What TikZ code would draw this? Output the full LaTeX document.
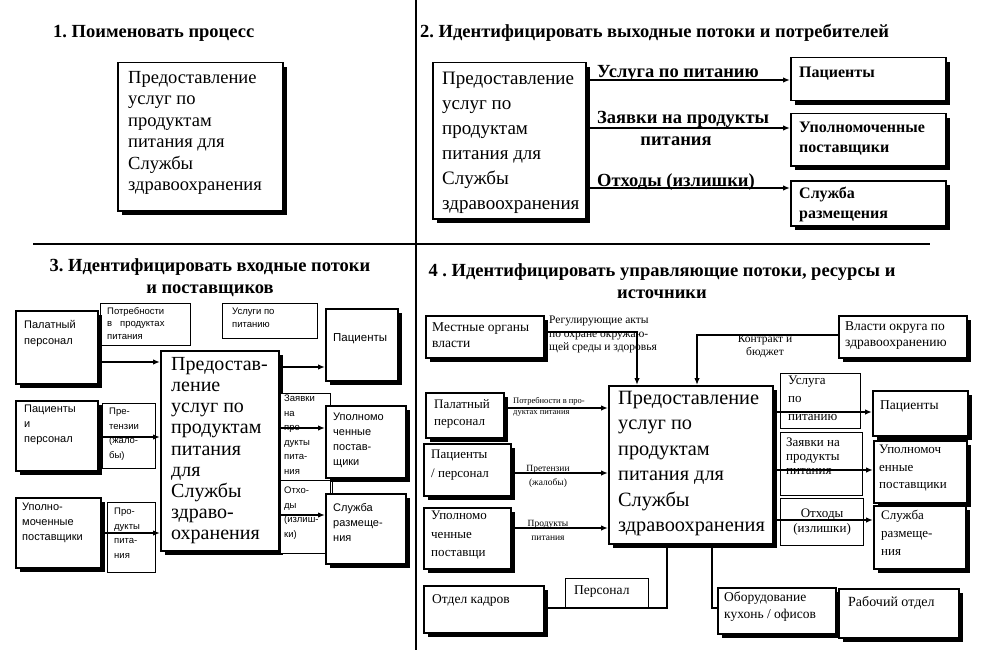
\documentclass[tikz,border=0pt]{standalone}
\usepackage{fontspec}
\setmainfont{Liberation Serif}
\setsansfont{Liberation Sans}
\usetikzlibrary{arrows.meta,shadows,calc}
\frenchspacing
\newcommand\myfs[2]{\fontsize{#1}{#2}\selectfont}
\newcommand\mkbox[6]{\node[#2, minimum width=#5pt, minimum height=#6pt] (#1) at (#3,#4) {};}
\tikzset{
  bx/.style={draw, line width=1.5pt, fill=white, anchor=north west, inner sep=0pt},
  shd/.style={bx, general shadow={fill=black, shadow xshift=4pt, shadow yshift=-4pt}},
  lbl/.style={bx, line width=1.2pt},
  txt/.style={anchor=north west, inner sep=0pt, align=left},
  ctxt/.style={inner sep=0pt, align=center},
  flow/.style={line width=1.8pt, -{Latex[length=7pt,width=5.5pt]}},
  link/.style={line width=1.6pt},
  divider/.style={line width=1.6pt},
  ttl/.style={inner sep=0pt, font=\myfs{18.5}{22}\bfseries},
  q2lab/.style={inner sep=0pt, font=\myfs{18.5}{22}\bfseries},
}
\begin{document}
\begin{tikzpicture}[x=1pt,y=-1pt]
\useasboundingbox (0,0) rectangle (987,650);
% dividers
\coordinate (vt) at (416,0); \coordinate (vb) at (416,650);
\coordinate (hl) at (33,244); \coordinate (hr) at (930,244);
\draw[divider] (vt) -- (vb);
\draw[divider] (hl) -- (hr);

% ---------- Quadrant 1 ----------
\node[ttl, anchor=west] (t1) at (53,33) {1. Поименовать процесс};
\mkbox{q1}{shd}{117}{62}{165}{148}
\node[txt, font=\myfs{18.5}{21.5}] (q1t) at ([shift={(11,9)}]q1.north west) {Предоставление\\услуг по\\продуктам\\питания для\\Службы\\здравоохранения};

% ---------- Quadrant 2 ----------
\node[ttl, anchor=west] (t2) at (420,33) {2. Идентифицировать выходные потоки и потребителей};
\mkbox{q2}{shd}{432}{62}{153}{156}
\node[txt, font=\myfs{19}{25}] (q2t) at ([shift={(10,10)}]q2.north west) {Предоставление\\услуг по\\продуктам\\питания для\\Службы\\здравоохранения};
\mkbox{q2p}{shd}{790}{57}{155}{43}
\node[txt, font=\myfs{16}{20}\bfseries] (q2pt) at ([shift={(9,10)}]q2p.north west) {Пациенты};
\mkbox{q2u}{shd}{790}{113}{155}{52}
\node[txt, font=\myfs{16}{20}\bfseries] (q2ut) at ([shift={(9,9)}]q2u.north west) {Уполномоченные\\поставщики};
\mkbox{q2s}{shd}{790}{180}{155}{45}
\node[txt, font=\myfs{16}{20}\bfseries] (q2st) at ([shift={(9,7)}]q2s.north west) {Служба\\размещения};
\draw[flow] ([yshift=-18pt]q2.north east) -- (q2p.west |- 0,80);
\draw[flow] ([yshift=-66pt]q2.north east) -- (q2u.west |- 0,128);
\draw[flow] ([yshift=-126pt]q2.north east) -- (q2s.west |- 0,188);
\node[q2lab, anchor=base west] (l21) at (597,78) {Услуга по питанию};
\node[q2lab, anchor=base west] (l22) at (597,124) {Заявки на продукты};
\node[q2lab, anchor=base] (l23) at (676,145) {питания};
\node[q2lab, anchor=base west] (l24) at (597,186) {Отходы (излишки)};

% ---------- Quadrant 3 ----------
\node[ttl, align=center] (t3) at (210,278) {3. Идентифицировать входные потоки\\и поставщиков};
\mkbox{q3need}{lbl}{100}{303}{90}{42}
\node[txt, font=\sffamily\myfs{9.5}{12.5}] (q3needt) at ([shift={(7,4)}]q3need.north west) {Потребности\\в\ \ \ продуктах\\питания};
\mkbox{q3serv}{lbl}{222}{303}{95}{35}
\node[txt, font=\sffamily\myfs{9.5}{12.5}] (q3servt) at ([shift={(10,5)}]q3serv.north west) {Услуги по\\питанию};
\mkbox{q3pp}{shd}{15}{310}{82}{73}
\node[txt, font=\sffamily\myfs{11}{16}] (q3ppt) at ([shift={(9,10)}]q3pp.north west) {Палатный\\персонал};
\mkbox{q3pat}{shd}{325}{308}{72}{72}
\node[txt, font=\sffamily\myfs{11.5}{16}] (q3patt) at ([shift={(8,25)}]q3pat.north west) {Пациенты};
\mkbox{q3main}{shd}{160}{350}{118}{200}
\node[txt, font=\myfs{20}{21.2}] (q3maint) at ([shift={(11,7)}]q3main.north west) {Предостав-\\ление\\услуг по\\продуктам\\питания\\для\\Службы\\здраво-\\охранения};
\mkbox{q3pp2}{shd}{15}{400}{82}{70}
\node[txt, font=\sffamily\myfs{11}{15}] (q3pp2t) at ([shift={(9,5)}]q3pp2.north west) {Пациенты\\и\\персонал};
\mkbox{q3cl}{lbl}{102}{403}{53}{65}
\node[txt, font=\sffamily\myfs{9.5}{14.5}] (q3clt) at ([shift={(7,5)}]q3cl.north west) {Пре-\\тензии\\(жало-\\бы)};
\mkbox{q3sup}{shd}{15}{497}{85}{70}
\node[txt, font=\sffamily\myfs{11}{15}] (q3supt) at ([shift={(7,6)}]q3sup.north west) {Уполно-\\моченные\\поставщики};
\mkbox{q3prod}{lbl}{107}{502}{48}{70}
\node[txt, font=\sffamily\myfs{9.5}{14.5}] (q3prodt) at ([shift={(7,6)}]q3prod.north west) {Про-\\дукты\\пита-\\ния};
\mkbox{q3ord}{lbl}{280}{393}{50}{87}
\node[txt, font=\sffamily\myfs{9.5}{14.5}] (q3ordt) at ([shift={(4,2)}]q3ord.north west) {Заявки\\на\\про-\\дукты\\пита-\\ния};
\mkbox{q3waste}{lbl}{280}{480}{50}{73}
\node[txt, font=\sffamily\myfs{9.5}{14.5}] (q3wastet) at ([shift={(4,7)}]q3waste.north west) {Отхо-\\ды\\(излиш-\\ки)};
\mkbox{q3sup2}{shd}{325}{405}{80}{72}
\node[txt, font=\sffamily\myfs{11}{15}] (q3sup2t) at ([shift={(8,8)}]q3sup2.north west) {Уполномо\\ченные\\постав-\\щики};
\mkbox{q3acc}{shd}{325}{493}{80}{70}
\node[txt, font=\sffamily\myfs{11}{15}] (q3acct) at ([shift={(8,10)}]q3acc.north west) {Служба\\размеще-\\ния};
\draw[link, line width=1pt] ([xshift=7pt]q3sup2.south west) -- ([xshift=7pt]q3acc.north west);
\draw[flow] (q3pp.east |- 0,362) -- (q3main.west |- 0,362);
\draw[flow] (q3pp2.east |- 0,437) -- (q3main.west |- 0,437);
\draw[flow] (q3sup.east |- 0,533) -- (q3main.west |- 0,533);
\draw[flow] (q3main.east |- 0,367) -- (q3pat.west |- 0,367);
\draw[flow] (q3main.east |- 0,428) -- (q3sup2.west |- 0,428);
\draw[flow] (q3main.east |- 0,515) -- (q3acc.west |- 0,515);

% ---------- Quadrant 4 ----------
\node[ttl, align=center] (t4) at (662,281) {4 . Идентифицировать управляющие потоки, ресурсы и\\источники};
\mkbox{q4loc}{shd}{425}{315}{118}{42}
\node[txt, font=\myfs{13.5}{16}] (q4loct) at ([shift={(7,7)}]q4loc.north west) {Местные органы\\власти};
\node[txt, font=\myfs{11.5}{13.5}] (q4reg) at (549,316) {Регулирующие акты\\по охране окружаю-\\щей среды и здоровья};
\mkbox{q4dist}{shd}{838}{315}{128}{42}
\node[txt, font=\myfs{13.5}{16}] (q4distt) at ([shift={(7,6)}]q4dist.north west) {Власти округа по\\здравоохранению};
\node[ctxt, font=\myfs{11.5}{13}] (q4ctr) at (765,346) {Контракт и\\бюджет};
\mkbox{q4main}{shd}{608}{385}{164}{158}
\node[txt, font=\myfs{20.3}{25.5}] (q4maint) at ([shift={(10,6)}]q4main.north west) {Предоставление\\услуг по\\продуктам\\питания для\\Службы\\здравоохранения};
\mkbox{q4ward}{shd}{425}{392}{78}{45}
\node[txt, font=\myfs{13}{17}] (q4wardt) at ([shift={(9,7)}]q4ward.north west) {Палатный\\персонал};
\node[txt, font=\myfs{8.5}{11}] (q4need) at (513,397) {Потребности в про-\\дуктах питания};
\mkbox{q4pat}{shd}{423}{443}{87}{52}
\node[txt, font=\myfs{13}{19}] (q4patt) at ([shift={(8,7)}]q4pat.north west) {Пациенты\\/ персонал};
\node[ctxt, font=\myfs{9.5}{14}] (q4cl) at (548,476) {Претензии\\(жалобы)};
\mkbox{q4sup}{shd}{423}{507}{87}{61}
\node[txt, font=\myfs{13}{18.5}] (q4supt) at ([shift={(8,4)}]q4sup.north west) {Уполномо\\ченные\\поставщи};
\node[ctxt, font=\myfs{9.5}{14}] (q4prod) at (548,530) {Продукты\\питания};
\mkbox{q4hr}{shd}{423}{585}{120}{47}
\node[txt, font=\myfs{13.5}{16}] (q4hrt) at ([shift={(9,9)}]q4hr.north west) {Отдел кадров};
\mkbox{q4staff}{lbl}{565}{578}{83}{29}
\node[txt, font=\myfs{13.5}{16}] (q4stafft) at ([shift={(9,7)}]q4staff.north west) {Персонал};
\mkbox{q4equip}{shd}{717}{587}{118}{46}
\node[txt, font=\myfs{13.5}{17}] (q4equipt) at ([shift={(7,5)}]q4equip.north west) {Оборудование\\кухонь / офисов};
\mkbox{q4work}{shd}{838}{588}{120}{49}
\node[txt, font=\myfs{14}{16}] (q4workt) at ([shift={(10,8)}]q4work.north west) {Рабочий отдел};
\mkbox{q4o1}{lbl}{780}{373}{80}{55}
\node[txt, font=\myfs{13}{18}] (q4o1t) at ([shift={(8,3)}]q4o1.north west) {Услуга\\по\\питанию};
\mkbox{q4pats}{shd}{872}{390}{95}{45}
\node[txt, font=\myfs{13.5}{16}] (q4patst) at ([shift={(8,10)}]q4pats.north west) {Пациенты};
\mkbox{q4o2}{lbl}{780}{432}{82}{63}
\node[txt, font=\myfs{13}{14}] (q4o2t) at ([shift={(6,6)}]q4o2.north west) {Заявки на\\продукты\\питания};
\mkbox{q4sups}{shd}{873}{440}{93}{62}
\node[txt, font=\myfs{13}{17.5}] (q4supst) at ([shift={(6,5)}]q4sups.north west) {Уполномоч\\енные\\поставщики};
\mkbox{q4o3}{lbl}{780}{498}{83}{47}
\node[ctxt, font=\myfs{13}{15}] (q4o3t) at (q4o3.center) {Отходы\\(излишки)};
\mkbox{q4acc}{shd}{873}{505}{92}{63}
\node[txt, font=\myfs{13}{18}] (q4acct) at ([shift={(8,5)}]q4acc.north west) {Служба\\размеще-\\ния};

\draw[flow] (q4loc.east |- 0,332) -| ([xshift=29pt]q4main.north west);
\draw[flow] (q4dist.west |- 0,335) -| ([xshift=89pt]q4main.north west);
\draw[flow] (q4ward.east |- 0,408) -- (q4main.west |- 0,408);
\draw[flow] (q4pat.east |- 0,473) -- (q4main.west |- 0,473);
\draw[flow] (q4sup.east |- 0,528) -- (q4main.west |- 0,528);
\draw[link] (q4hr.east |- 0,608) -| ([xshift=59pt]q4main.south west);
\draw[link] ([xshift=104pt]q4main.south west) |- (q4equip.west |- 0,608);
\draw[flow] (q4main.east |- 0,412) -- (q4pats.west |- 0,412);
\draw[flow] (q4main.east |- 0,470) -- (q4sups.west |- 0,470);
\draw[flow] (q4main.east |- 0,520) -- (q4acc.west |- 0,520);
\end{tikzpicture}
\end{document}
